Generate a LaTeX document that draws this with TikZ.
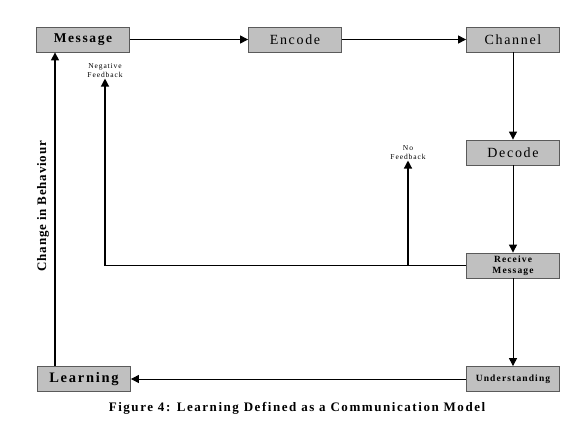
\documentclass[tikz,border=0pt]{standalone}
\usepackage{fontspec}
\setmainfont{Liberation Serif}
\newfontfamily\spacedfont[LetterSpace=12]{Liberation Serif}
\newfontfamily\widefont[LetterSpace=6]{Liberation Serif}
\usetikzlibrary{arrows.meta, positioning, calc}
\definecolor{boxgray}{RGB}{192,192,192}
\definecolor{edgegray}{RGB}{90,90,90}

\begin{document}
\begin{tikzpicture}[
    x=1pt, y=-1pt,
    box/.style={draw=edgegray, line width=0.8pt, fill=boxgray, minimum width=93pt, minimum height=25pt, inner sep=1pt, align=center, font=\spacedfont\fontsize{#1}{#1}\selectfont},
    box/.default=14,
    boldbox/.style={box, font=\spacedfont\bfseries\fontsize{#1}{10.5}\selectfont},
    thin flow/.style={-{Triangle[length=8pt, width=8pt]}, line width=1pt, black},
    flow/.style={thin flow, line width=1.3pt},
    note/.style={font=\spacedfont\fontsize{7.5}{9}\selectfont, align=center},
]
\useasboundingbox (0,0) rectangle (576,432);

%% Top row
\node[boldbox=13.5] (msg) at (83, 39.5) {Message};
\node[box] (enc) at (295, 39.5) {Encode};
\node[box] (chan) at (513, 39.5) {Channel};

%% Right column
\node[box] (dec) at (513, 152.5) {Decode};
\node[boldbox=9.5] (recv) at (513, 265.5) {Receive\\Message};
\node[boldbox=9.5] (und) at (513, 379) {Understanding};

%% Bottom left
\node[boldbox=14.5] (learn) at (84, 379) {Learning};

%% Feedback labels
\node[note] (neglbl) at (105, 71) {Negative\\Feedback};
\node[note] (nolbl) at (408, 153) {No\\Feedback};

%% Connections
\draw[thin flow] (msg) -- (enc);
\draw[thin flow] (enc) -- (chan);
\draw[thin flow] (chan) -- (dec);
\draw[thin flow] (dec) -- (recv);
\draw[thin flow] (recv) -- (und);
\draw[thin flow] (und) -- (learn);

\draw[flow] (recv.west) -| ([yshift=3pt]neglbl.south);
\draw[flow] (recv.west -| nolbl) -- ([yshift=3pt]nolbl.south);

\draw[flow] ([xshift=-29pt]learn.north) -- ([xshift=-28pt]msg.south)
    node[pos=0.51, left=2pt, rotate=90, anchor=south, font=\widefont\bfseries\fontsize{13}{13}\selectfont] (behav) {Change in Behaviour};

%% Caption
\node[font=\spacedfont\bfseries\fontsize{13}{13}\selectfont, inner sep=0pt] (caption) at (297, 408) {Figure 4: Learning Defined as a Communication Model};

\end{tikzpicture}
\end{document}
